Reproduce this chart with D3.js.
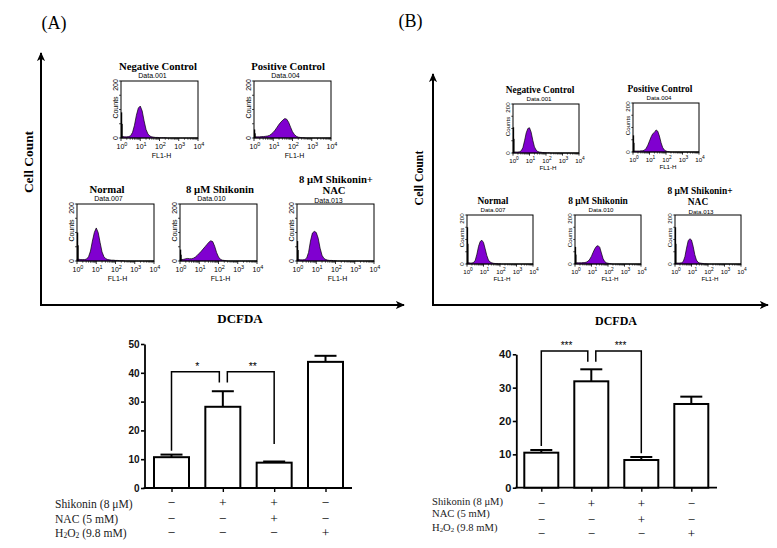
<!DOCTYPE html>
<html><head><meta charset="utf-8">
<script src="https://cdn.jsdelivr.net/npm/d3@7"></script>
<style>body{margin:0;background:#fff} svg{display:block}</style>
</head><body>
<svg id="c" width="777" height="548"></svg>
<script>
// ---------------- DATA ----------------
const conditions = ["Normal", "Shikonin", "Shikonin+NAC", "H2O2"];
const treatmentSigns = [["−","+","+","−"],["−","−","+","−"],["−","−","−","+"]];
const yTicksA = [0, 10, 20, 30, 40, 50];
const yTicksB = [0, 10, 20, 30, 40];
const meanA = [10.7, 28.2, 8.8, 43.8];
const semA  = [0.9, 5.4, 0.4, 2.1];
const meanB = [10.5, 31.9, 8.3, 25.1];
const semB  = [0.8, 3.6, 0.9, 2.2];
const bracketsA = [
  {from: 0, to: 1, top: 40.4, dropFrom: 12.9, dropTo: 36.6, label: "*"},
  {from: 1, to: 2, top: 40.4, dropFrom: 36.6, dropTo: 15.3, label: "**"}
];
const bracketsB = [
  {from: 0, to: 1, top: 41.0, dropFrom: 12.5, dropTo: 37.8, label: "***"},
  {from: 1, to: 2, top: 41.0, dropFrom: 37.8, dropTo: 10.3, label: "***"}
];
const histTitles = [["Negative Control"], ["Positive Control"], ["Normal"], ["8 μM Shikonin"], ["8 μM Shikonin+", "NAC"]];
const histDataLabels = ["Data.001", "Data.004", "Data.007", "Data.010", "Data.013"];
const histXTicks = [0, 1, 2, 3, 4];
const histYTicks = [0, 200];
// counts per log10 bin (0.0, 0.1, ... 4.0)
const countsA_neg    = [4,5,4,4,5,8,20,45,80,105,112,95,60,30,14,7,4,3,2,2,1,1,1,1,0,0,0,0,0,0,0,0,0,0,0,0,0,0,0,0,0];
const countsA_pos    = [4,4,4,4,5,5,6,7,9,14,20,28,38,48,56,63,68,66,55,38,22,12,6,3,2,1,1,0,0,0,0,0,0,0,0,0,0,0,0,0,0];
const countsA_normal = [6,6,5,5,5,7,15,35,70,100,116,100,65,32,15,8,5,4,3,3,2,2,1,1,1,0,0,0,0,0,0,0,0,0,0,0,0,0,0,0,0];
const countsA_shik   = [5,5,6,8,9,8,8,10,14,20,27,34,42,50,58,66,71,68,52,30,14,6,3,2,1,0,0,0,0,0,0,0,0,0,0,0,0,0,0,0,0];
const countsA_nac    = [5,5,4,4,5,10,30,70,98,104,100,80,45,20,9,5,3,2,2,1,1,0,0,0,0,0,0,0,0,0,0,0,0,0,0,0,0,0,0,0,0];
const countsB_neg    = [4,4,4,4,5,9,22,50,82,100,103,85,52,25,12,6,4,3,2,2,1,1,1,0,0,0,0,0,0,0,0,0,0,0,0,0,0,0,0,0,0];
const countsB_pos    = [4,4,4,4,4,5,5,8,15,28,45,62,75,80,90,85,65,38,18,8,4,2,1,0,0,0,0,0,0,0,0,0,0,0,0,0,0,0,0,0,0];
const countsB_normal = [5,5,4,4,6,15,40,72,92,97,88,62,35,16,8,5,3,2,2,1,1,0,0,0,0,0,0,0,0,0,0,0,0,0,0,0,0,0,0,0,0];
const countsB_shik   = [5,5,5,5,5,6,6,8,12,20,32,48,62,72,75,68,45,22,10,5,3,2,1,0,0,0,0,0,0,0,0,0,0,0,0,0,0,0,0,0,0];
const countsB_nac    = [4,4,4,4,5,10,30,65,95,103,98,72,38,16,7,4,3,2,1,1,0,0,0,0,0,0,0,0,0,0,0,0,0,0,0,0,0,0,0,0,0];
const spikeA = [90, 30, 100, 40, 70];
const spikeB = [105, 68, 150, 70, 150];

// ---------------- DRAWING ----------------
const svg = d3.select("#c");
const serif = "'Liberation Serif','Times New Roman',serif";
const sans = "'Liberation Sans',Arial,sans-serif";
const purple = "#8000d0";
const logBins = d3.range(41).map(i => i / 10);

const defs = svg.append("defs");
defs.append("marker").attr("id", "arr").attr("viewBox", "0 0 10 10")
  .attr("refX", 9).attr("refY", 5).attr("markerWidth", 9).attr("markerHeight", 9)
  .attr("markerUnits", "userSpaceOnUse").attr("orient", "auto")
  .append("path").attr("d", "M0,0.5 L10,5 L0,9.5 L2.5,5 Z").attr("fill", "#000");

function arrow(x1, y1, x2, y2) {
  svg.append("line").attr("x1", x1).attr("y1", y1).attr("x2", x2).attr("y2", y2)
    .attr("stroke", "#000").attr("stroke-width", 2).attr("marker-end", "url(#arr)");
}

function txt(x, y, s, size, opts = {}) {
  const t = svg.append("text").attr("x", x).attr("y", y).text(s)
    .attr("font-family", opts.family || serif).attr("font-size", size)
    .attr("font-weight", opts.bold ? "bold" : "normal")
    .attr("text-anchor", opts.anchor || "middle").attr("fill", opts.fill || "#000");
  if (opts.rotate) t.attr("transform", `rotate(-90,${x},${y})`);
  return t;
}

// panel labels
txt(54, 29, "(A)", 18);
txt(410.5, 27, "(B)", 18);

// big axes
arrow(41, 305, 41, 53);
arrow(40, 305, 404, 305);
arrow(433, 305, 433, 74);
arrow(432, 305, 768, 305);
txt(32.5, 162, "Cell Count", 13.4, {bold: true, rotate: true});
txt(423, 178, "Cell Count", 11.8, {bold: true, rotate: true});
txt(240, 323, "DCFDA", 13, {bold: true});
txt(616, 325, "DCFDA", 12, {bold: true});

function drawHist(cfg) {
  const {x0, y0, w, h, counts, spike, title, titleX, dataLabel, s} = cfg;
  const g = svg.append("g");
  const xs = d3.scaleLinear().domain([0, 4]).range([x0, x0 + w]);
  const ys = d3.scaleLinear().domain([0, 200]).range([y0 + h, y0]);
  const area = d3.area().x((d, i) => xs(logBins[i])).y0(ys(0)).y1(d => ys(d)).curve(d3.curveLinear);
  g.append("path").datum(counts).attr("d", area).attr("fill", purple)
    .attr("stroke", "#000").attr("stroke-width", 0.7);
  g.append("line").attr("x1", xs(0.03)).attr("x2", xs(0.03)).attr("y1", ys(0)).attr("y2", ys(spike))
    .attr("stroke", "#000").attr("stroke-width", 1.3);
  g.append("line").attr("x1", xs(0.07)).attr("x2", xs(0.07)).attr("y1", ys(0)).attr("y2", ys(spike * 0.55))
    .attr("stroke", "#000").attr("stroke-width", 0.8);
  g.append("rect").attr("x", x0).attr("y", y0).attr("width", w).attr("height", h)
    .attr("fill", "none").attr("stroke", "#000").attr("stroke-width", 1);
  // x ticks
  histXTicks.forEach(d => {
    g.append("line").attr("x1", xs(d)).attr("x2", xs(d)).attr("y1", y0 + h).attr("y2", y0 + h + 3 * s)
      .attr("stroke", "#000").attr("stroke-width", 0.8);
    const t = g.append("text").attr("x", xs(d) + 1).attr("y", y0 + h + 11 * s)
      .attr("font-family", sans).attr("font-size", 7 * s).attr("text-anchor", "middle").text("10");
    t.append("tspan").attr("dy", -3 * s).attr("font-size", 5.5 * s).text(d);
    if (d < 4) {
      d3.range(2, 10).forEach(k => {
        const lx = xs(d + Math.log10(k));
        g.append("line").attr("x1", lx).attr("x2", lx).attr("y1", y0 + h).attr("y2", y0 + h + 1.8 * s)
          .attr("stroke", "#000").attr("stroke-width", 0.6);
      });
    }
  });
  // y ticks
  [0, 50, 100, 150, 200].forEach(v => {
    g.append("line").attr("x1", x0).attr("x2", x0 - 2 * s).attr("y1", ys(v)).attr("y2", ys(v))
      .attr("stroke", "#000").attr("stroke-width", 0.7);
  });
  histYTicks.forEach(v => {
    const yy = v === 0 ? ys(0) : ys(200) + 4 * s;
    g.append("text").attr("x", x0 - 3.5 * s).attr("y", yy)
      .attr("transform", `rotate(-90,${x0 - 3.5 * s},${yy})`)
      .attr("font-family", sans).attr("font-size", 7 * s).attr("text-anchor", "middle").text(v);
  });
  g.append("text").attr("x", x0 - 3.5 * s).attr("y", y0 + h / 2 - 2)
    .attr("transform", `rotate(-90,${x0 - 3.5 * s},${y0 + h / 2 - 2})`)
    .attr("font-family", sans).attr("font-size", 7 * s).attr("text-anchor", "middle").text("Counts");
  g.append("text").attr("x", x0 + w / 2 + 2).attr("y", y0 + h + 19.5 * s)
    .attr("font-family", sans).attr("font-size", 7 * s).attr("text-anchor", "middle").text("FL1-H");
  g.append("text").attr("x", x0 + w / 2 - 7).attr("y", y0 - (title.length > 1 ? 1.5 : 3))
    .attr("font-family", sans).attr("font-size", 7 * s).attr("text-anchor", "middle").text(dataLabel);
  if (title.length === 1) {
    txt(titleX, y0 - 11.5, title[0], 10.7 * s, {bold: true});
  } else {
    txt(titleX, y0 - 21.5, title[0], 10.7 * s, {bold: true});
    txt(titleX - 2, y0 - 10.5, title[1], 10.7 * s, {bold: true});
  }
}

const countsA = [countsA_neg, countsA_pos, countsA_normal, countsA_shik, countsA_nac];
const countsB = [countsB_neg, countsB_pos, countsB_normal, countsB_shik, countsB_nac];
const layoutA = [[121, 81, 158], [254, 81, 288], [77, 204, 107], [180, 204, 220], [297, 204, 336]];
const layoutB = [[513, 104, 540], [633, 103, 660], [467, 215, 493], [575, 215, 598], [675, 215, 700]];
layoutA.forEach((L, i) => drawHist({x0: L[0], y0: L[1], w: 77, h: 57, counts: countsA[i], spike: spikeA[i],
  title: histTitles[i], titleX: L[2], dataLabel: histDataLabels[i], s: 1}));
layoutB.forEach((L, i) => drawHist({x0: L[0], y0: L[1], w: 66, h: 49, counts: countsB[i], spike: spikeB[i],
  title: histTitles[i], titleX: L[2], dataLabel: histDataLabels[i], s: 0.88}));

// ---------------- BAR CHARTS ----------------
function barChart(cfg) {
  const {axisX, axisEnd, y0px, yTopPx, yMax, ticks, xFirst, xLast, barW, means, sems, brackets,
         tickFont, labelX, labelYs, signYs, labelSize, signSize, starSize} = cfg;
  const g = svg.append("g");
  const y = d3.scaleLinear().domain([0, yMax]).range([y0px, yTopPx]);
  const x = d3.scalePoint().domain(conditions).range([xFirst, xLast]);
  // y axis
  const ya = g.append("g").attr("transform", `translate(${axisX},0)`)
    .call(d3.axisLeft(y).tickValues(ticks).tickSize(3.5).tickSizeOuter(0).tickPadding(1.5));
  ya.select(".domain").attr("stroke-width", 1.8);
  ya.selectAll(".tick line").attr("stroke-width", 1.6);
  ya.selectAll(".tick text").attr("font-family", sans).attr("font-weight", "bold")
    .attr("font-size", tickFont).attr("fill", "#111");
  // x axis
  g.append("line").attr("x1", axisX - 0.9).attr("x2", axisEnd).attr("y1", y0px).attr("y2", y0px)
    .attr("stroke", "#000").attr("stroke-width", 1.8);
  const xa = g.append("g").attr("transform", `translate(0,${y0px})`)
    .call(d3.axisBottom(x).tickSize(4).tickSizeOuter(0).tickFormat(""));
  xa.select(".domain").remove();
  xa.selectAll(".tick line").attr("stroke-width", 1.4);
  // bars
  conditions.forEach((c, i) => {
    const cx = x(c);
    g.append("line").attr("x1", cx).attr("x2", cx).attr("y1", y(means[i])).attr("y2", y(means[i] + sems[i]))
      .attr("stroke", "#000").attr("stroke-width", 2);
    g.append("line").attr("x1", cx - 11).attr("x2", cx + 11).attr("y1", y(means[i] + sems[i])).attr("y2", y(means[i] + sems[i]))
      .attr("stroke", "#000").attr("stroke-width", 2);
    g.append("rect").attr("x", cx - barW / 2).attr("y", y(means[i])).attr("width", barW)
      .attr("height", y0px - y(means[i])).attr("fill", "#fff").attr("stroke", "#000").attr("stroke-width", 2);
  });
  // brackets
  brackets.forEach(b => {
    const xa0 = x(conditions[b.from]) + (b.from === 1 ? 4.5 : 0);
    const xa1 = x(conditions[b.to]) - (b.to === 1 ? 3.5 : 0);
    g.append("path").attr("d", `M${xa0},${y(b.dropFrom)}V${y(b.top)}H${xa1}V${y(b.dropTo)}`)
      .attr("fill", "none").attr("stroke", "#000").attr("stroke-width", 1.5);
    g.append("text").attr("x", (xa0 + xa1) / 2 + 2).attr("y", y(b.top) - 1.5).attr("text-anchor", "middle")
      .attr("font-family", sans).attr("font-size", starSize).text(b.label);
  });
  // treatment table
  const rowLabels = ["Shikonin (8 μM)", "NAC (5 mM)", null];
  rowLabels.forEach((r, k) => {
    const t = g.append("text").attr("x", labelX).attr("y", labelYs[k]).attr("font-family", serif)
      .attr("font-size", labelSize).attr("fill", "#222");
    if (r) t.text(r);
    else {
      t.append("tspan").text("H");
      t.append("tspan").attr("font-size", labelSize * 0.65).attr("dy", 1.5).text("2");
      t.append("tspan").attr("dy", -1.5).text("O");
      t.append("tspan").attr("font-size", labelSize * 0.65).attr("dy", 1.5).text("2");
      t.append("tspan").attr("dy", -1.5).text(" (9.8 mM)");
    }
    treatmentSigns[k].forEach((s, i) => {
      g.append("text").attr("x", x(conditions[i])).attr("y", signYs[k]).attr("text-anchor", "middle")
        .attr("font-family", serif).attr("font-size", signSize).text(s);
    });
  });
}

barChart({axisX: 144.5, axisEnd: 352, y0px: 488, yTopPx: 344, yMax: 50, ticks: yTicksA,
  xFirst: 171.5, xLast: 325.5, barW: 35, means: meanA, sems: semA, brackets: bracketsA,
  tickFont: 10, labelX: 55, labelYs: [508, 523, 536.5], signYs: [506.5, 522.5, 536.5],
  labelSize: 11.6, signSize: 13.5, starSize: 10.5});
barChart({axisX: 516.3, axisEnd: 717, y0px: 487.7, yTopPx: 354.3, yMax: 40, ticks: yTicksB,
  xFirst: 541.3, xLast: 691.3, barW: 34, means: meanB, sems: semB, brackets: bracketsB,
  tickFont: 11, labelX: 432, labelYs: [505, 517, 530.5], signYs: [507.5, 523.5, 537.5],
  labelSize: 10.6, signSize: 13, starSize: 10});
</script>
</body></html>
